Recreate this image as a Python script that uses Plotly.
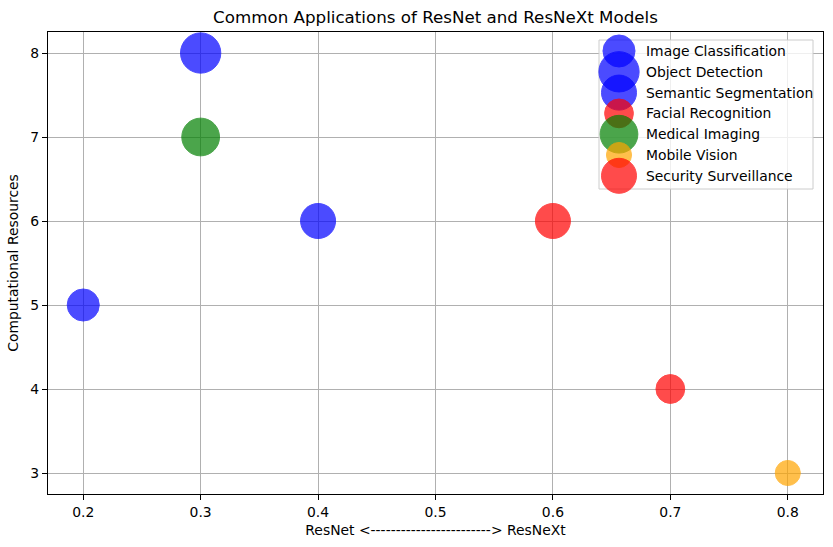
import plotly.graph_objects as go
import numpy as np

# ---- data ----
applications = ["Image Classification", "Object Detection", "Semantic Segmentation",
                "Facial Recognition", "Medical Imaging", "Mobile Vision", "Security Surveillance"]
resnet_to_resnext = [0.2, 0.3, 0.4, 0.7, 0.3, 0.8, 0.6]
computational_resources = [5, 8, 6, 4, 7, 3, 6]
importance = [500, 800, 600, 400, 700, 300, 600]   # matplotlib-style marker area (pt^2)
colors = ["blue", "blue", "blue", "red", "green", "orange", "red"]
x_ticks = [0.2, 0.3, 0.4, 0.5, 0.6, 0.7, 0.8]
y_ticks = [3, 4, 5, 6, 7, 8]

W, H = 833, 547
L, R, T, B = 48, 823, 32, 494  # plot-area pixel edges

def diam(s):
    return np.sqrt(s) * 100 / 72 + 1.0

FONT = "DejaVu Sans, Verdana, sans-serif"
fig = go.Figure()

for name, x, y, s, c in zip(applications, resnet_to_resnext, computational_resources, importance, colors):
    fig.add_trace(go.Scatter(
        x=[x], y=[y], mode="markers", name=name, showlegend=False,
        marker=dict(size=diam(s), color=c, opacity=0.7, line=dict(width=1, color=c)),
        hoverinfo="name+x+y",
    ))

# ---- custom matplotlib-like legend on a pixel-space overlay axis ----
box_x0, box_x1, box_y0, box_y1 = 599, 813, 40, 189
fig.add_trace(go.Scatter(
    x=[box_x0, box_x1, box_x1, box_x0, box_x0],
    y=[box_y0, box_y0, box_y1, box_y1, box_y0],
    mode="lines", fill="toself", fillcolor="rgba(255,255,255,0.8)",
    line=dict(color="#cccccc", width=1), xaxis="x2", yaxis="y2",
    showlegend=False, hoverinfo="skip"))
row0, row_step, mx, tx = 51, 20.8, 619, 644
for i, (name, s, c) in enumerate(zip(applications, importance, colors)):
    ry = row0 + i * row_step
    fig.add_trace(go.Scatter(
        x=[mx], y=[ry], mode="markers", xaxis="x2", yaxis="y2", showlegend=False,
        marker=dict(size=diam(s), color=c, opacity=0.7, line=dict(width=1, color=c)),
        hoverinfo="skip"))
    fig.add_annotation(x=tx, y=ry, xref="x2", yref="y2", text=name, showarrow=False,
                       xanchor="left", yanchor="middle",
                       font=dict(family=FONT, size=13.9, color="black"))

fig.update_layout(
    width=W, height=H,
    margin=dict(l=L, r=W - R, t=T, b=H - B),
    paper_bgcolor="white", plot_bgcolor="white",
    font=dict(family=FONT, size=13.9, color="black"),
    title=dict(text="Common Applications of ResNet and ResNeXt Models",
               x=(L + R) / 2 / W, xanchor="center", y=1 - 17 / H, yanchor="middle",
               font=dict(family=FONT, size=16.7, color="black")),
    xaxis=dict(range=[0.17, 0.83], tickvals=x_ticks, ticktext=[f"{v:.1f}" for v in x_ticks],
               showgrid=True, gridcolor="#b0b0b0", gridwidth=1.1,
               showline=True, linecolor="black", linewidth=1.1, mirror=True,
               ticks="outside", ticklen=5, tickwidth=1.1, tickcolor="black",
               zeroline=False,
               title=dict(text="ResNet <------------------------> ResNeXt",
                          font=dict(family=FONT, size=13.9), standoff=6)),
    yaxis=dict(range=[2.75, 8.25], tickvals=y_ticks,
               showgrid=True, gridcolor="#b0b0b0", gridwidth=1.1,
               showline=True, linecolor="black", linewidth=1.1, mirror=True,
               ticks="outside", ticklen=5, tickwidth=1.1, tickcolor="black",
               zeroline=False,
               title=dict(text="Computational Resources",
                          font=dict(family=FONT, size=13.9), standoff=8)),
    xaxis2=dict(range=[L, R], overlaying="x", visible=False, fixedrange=True),
    yaxis2=dict(range=[B, T], overlaying="y", visible=False, fixedrange=True),
)

fig.write_html("out.html")
